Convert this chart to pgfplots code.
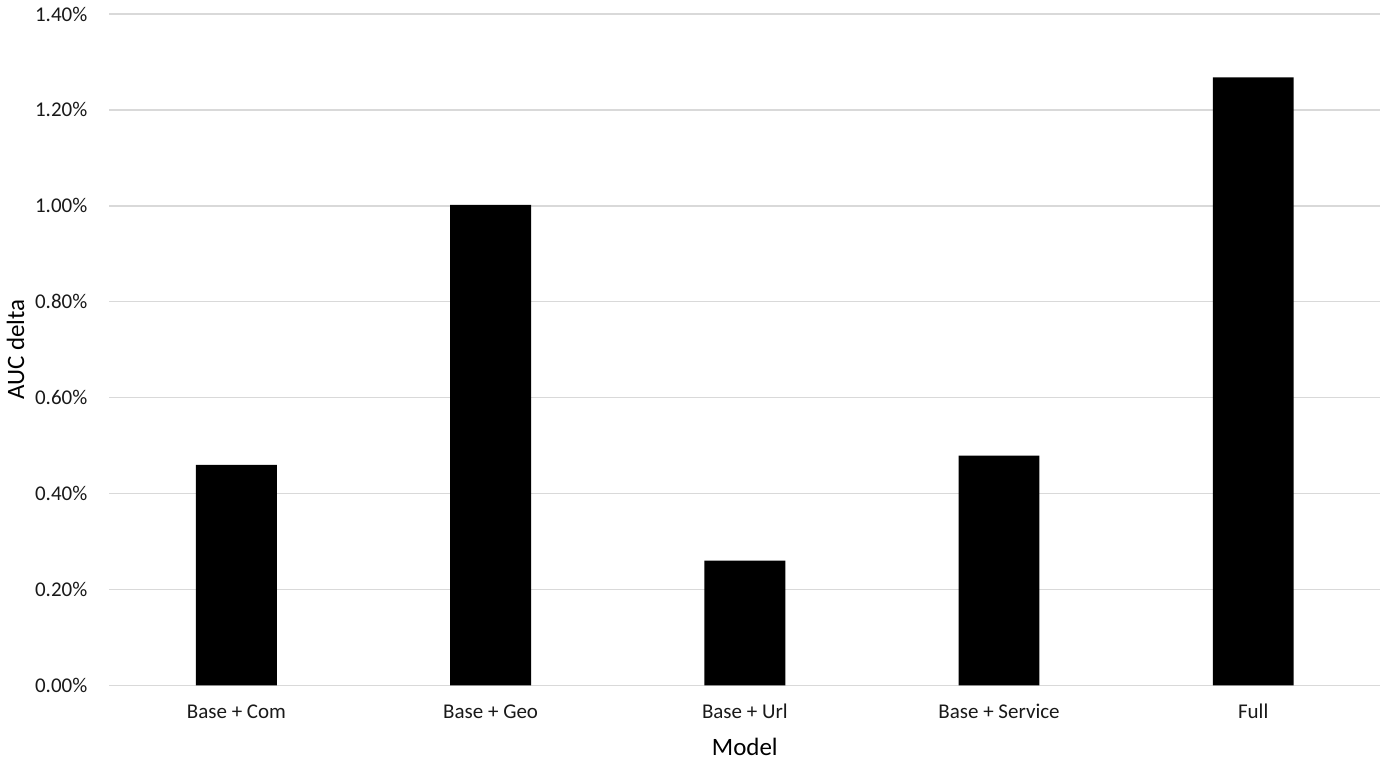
\documentclass[border=0pt]{standalone}
\usepackage{fontspec}
\setmainfont{Carlito}
\usepackage{pgfplots}
\pgfplotsset{compat=1.18}

\definecolor{gridgrey}{HTML}{D9D9D9}

\begin{document}
\begin{tikzpicture}
\begin{axis}[
    scale only axis,
    width=636pt, height=336pt,
    xmin=-0.5, xmax=4.5,
    ymin=0, ymax=1.4,
    ytick={0,0.2,...,1.4},
    xtick={0,1,2,3,4},
    xticklabels={Base + Com, Base + Geo, Base + Url, Base + Service, Full},
    axis line style={draw=none},
    major tick length=0pt,
    ymajorgrids,
    grid style={gridgrey, line width=0.7pt},
    /pgf/number format/assume math mode=true,
    yticklabel={\pgfmathprintnumber[fixed,fixed zerofill,precision=2]{\tick}\%},
    ticklabel style={font=\fontsize{10.5}{12}\selectfont, text=black!90},
    yticklabel style={xshift=-7.5pt},
    xticklabel style={text height=1.5ex, text depth=0.4ex, yshift=-6pt},
    xlabel={Model},
    ylabel={AUC delta},
    label style={font=\fontsize{12.5}{14}\selectfont},
    xlabel style={at={(axis description cs:0.5,0)}, anchor=center, yshift=-31pt},
    ylabel style={at={(axis description cs:0,0.5)}, anchor=center, rotate=0, yshift=47pt},
    clip=false,
]
\addplot[ybar, bar width=40.5pt, fill=black, draw=none] coordinates {
    (0,0.460) (1,1.002) (2,0.260) (3,0.479) (4,1.268)
};
\end{axis}
\path[use as bounding box] (-54.5pt,-40pt) rectangle (636pt,343pt);
\end{tikzpicture}
\end{document}
